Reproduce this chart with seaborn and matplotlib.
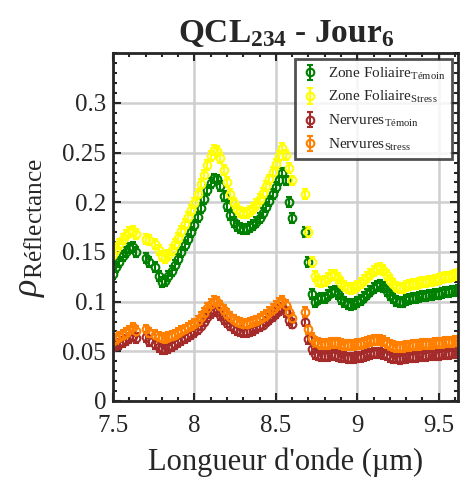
import numpy as np
import pandas as pd
import matplotlib
matplotlib.use("Agg")
import matplotlib.pyplot as plt
import seaborn as sns
from matplotlib.ticker import MultipleLocator

# wavelength grid (um), step 0.02
wavelength = np.round(np.arange(7.50, 9.621, 0.02), 2)

nan = np.nan
foliaire_temoin = [
    0.128, 0.135, 0.140, 0.146, 0.150, 0.154, 0.155, 0.150, nan, nan,
    0.144, 0.140, nan, 0.135, 0.126, 0.120, 0.121, 0.126, 0.131, 0.137,
    0.143, 0.150, 0.157, 0.163, 0.170, 0.177, 0.185, 0.194, 0.203, 0.212,
    0.219, 0.224, 0.223, 0.216, 0.206, 0.196, 0.187, 0.180, 0.176, 0.174,
    0.173, 0.173, 0.175, 0.177, 0.180, 0.184, 0.189, 0.195, 0.201, 0.208,
    0.215, 0.222, 0.230, 0.222, 0.200, 0.184, nan, nan, nan, 0.170,
    0.140, 0.108, 0.100, 0.103, 0.104, 0.104, 0.107, 0.110, 0.111, 0.108,
    0.103, 0.100, 0.098, 0.097, 0.098, 0.100, 0.102, 0.105, 0.108, 0.111,
    0.114, 0.116, 0.117, 0.115, 0.111, 0.107, 0.104, 0.101, 0.100, 0.100,
    0.102, 0.103, 0.104, 0.104, 0.105, 0.106, 0.106, 0.107, 0.107, 0.108,
    0.108, 0.109, 0.110, 0.110, 0.111, 0.111, 0.112,
]
foliaire_stress = [
    0.148, 0.153, 0.158, 0.163, 0.167, 0.170, 0.171, 0.168, nan, nan,
    0.163, 0.162, nan, 0.158, 0.152, 0.146, 0.144, 0.147, 0.152, 0.158,
    0.164, 0.171, 0.178, 0.185, 0.192, 0.199, 0.208, 0.218, 0.228, 0.238,
    0.247, 0.253, 0.252, 0.245, 0.233, 0.220, 0.208, 0.199, 0.193, 0.190,
    0.189, 0.189, 0.191, 0.194, 0.198, 0.203, 0.209, 0.216, 0.223, 0.231,
    0.239, 0.247, 0.255, 0.248, 0.235, 0.222, nan, nan, nan, 0.208,
    0.170, 0.140, 0.126, 0.121, 0.120, 0.121, 0.124, 0.127, 0.127, 0.124,
    0.119, 0.116, 0.114, 0.113, 0.114, 0.116, 0.119, 0.122, 0.125, 0.128,
    0.131, 0.133, 0.134, 0.132, 0.127, 0.122, 0.118, 0.115, 0.114, 0.114,
    0.116, 0.117, 0.118, 0.118, 0.119, 0.120, 0.120, 0.121, 0.121, 0.122,
    0.123, 0.124, 0.125, 0.125, 0.126, 0.127, 0.128,
]
nervures_temoin = [
    0.055, 0.056, 0.057, 0.059, 0.061, 0.063, 0.065, 0.063, nan, nan,
    0.064, 0.060, nan, 0.057, 0.054, 0.052, 0.052, 0.053, 0.055, 0.057,
    0.059, 0.061, 0.063, 0.065, 0.067, 0.069, 0.072, 0.076, 0.080, 0.085,
    0.089, 0.092, 0.091, 0.087, 0.083, 0.079, 0.076, 0.073, 0.071, 0.070,
    0.069, 0.069, 0.070, 0.071, 0.073, 0.075, 0.077, 0.080, 0.083, 0.086,
    0.089, 0.092, 0.094, 0.090, 0.082, 0.078, nan, nan, nan, 0.080,
    0.062, 0.052, 0.047, 0.046, 0.045, 0.045, 0.045, 0.046, 0.046, 0.045,
    0.044, 0.044, 0.043, 0.043, 0.043, 0.044, 0.044, 0.045, 0.046, 0.047,
    0.048, 0.048, 0.048, 0.047, 0.046, 0.044, 0.043, 0.043, 0.042, 0.043,
    0.043, 0.044, 0.044, 0.044, 0.045, 0.045, 0.045, 0.046, 0.046, 0.046,
    0.046, 0.047, 0.047, 0.047, 0.048, 0.048, 0.048,
]
nervures_stress = [
    0.060, 0.062, 0.064, 0.066, 0.068, 0.071, 0.074, 0.070, nan, nan,
    0.072, 0.068, nan, 0.066, 0.064, 0.063, 0.063, 0.064, 0.065, 0.066,
    0.068, 0.070, 0.072, 0.074, 0.076, 0.078, 0.081, 0.085, 0.089, 0.094,
    0.098, 0.101, 0.100, 0.096, 0.092, 0.088, 0.085, 0.082, 0.080, 0.079,
    0.078, 0.078, 0.079, 0.080, 0.081, 0.083, 0.085, 0.087, 0.090, 0.093,
    0.096, 0.099, 0.101, 0.097, 0.090, 0.084, nan, nan, nan, 0.090,
    0.072, 0.063, 0.059, 0.058, 0.057, 0.057, 0.057, 0.058, 0.058, 0.058,
    0.057, 0.056, 0.056, 0.056, 0.056, 0.057, 0.057, 0.058, 0.059, 0.060,
    0.061, 0.061, 0.061, 0.060, 0.058, 0.056, 0.055, 0.054, 0.054, 0.054,
    0.055, 0.055, 0.056, 0.056, 0.056, 0.057, 0.057, 0.057, 0.057, 0.058,
    0.058, 0.058, 0.059, 0.059, 0.059, 0.060, 0.060,
]

labels = [
    r"Zone Foliaire$_{\mathrm{Témoin}}$",
    r"Zone Foliaire$_{\mathrm{Stress}}$",
    r"Nervures$_{\mathrm{Témoin}}$",
    r"Nervures$_{\mathrm{Stress}}$",
]
colors = ["#008000", "#ffff00", "#a52a2a", "#ff8000"]
errors = [0.005, 0.005, 0.005, 0.005]

series = [foliaire_temoin, foliaire_stress, nervures_temoin, nervures_stress]
df = pd.concat(
    [pd.DataFrame({"x": wavelength, "y": s, "serie": lab}) for s, lab in zip(series, labels)],
    ignore_index=True,
)

sns.set_style("ticks")
plt.rcParams["font.family"] = ["Liberation Serif", "DejaVu Serif"]
plt.rcParams["mathtext.fontset"] = "custom"
plt.rcParams["mathtext.rm"] = "Liberation Serif"
plt.rcParams["mathtext.it"] = "Liberation Serif:italic"
plt.rcParams["mathtext.bf"] = "Liberation Serif:bold"

fig = plt.figure(figsize=(4.64, 4.86), dpi=100)
ax = fig.add_axes([0.2435, 0.1749, 0.7442, 0.7154])

palette = dict(zip(labels, colors))
for lab, err in zip(labels, errors):
    d = df[df["serie"] == lab]
    ax.errorbar(d["x"], d["y"], yerr=err, fmt="o", color=palette[lab],
                mfc="none", ms=5.5, mew=1.5, elinewidth=1.5, capsize=2,
                label=lab)

ax.set_xlim(7.5, 9.62)
ax.set_ylim(0, 0.35)
ax.xaxis.set_minor_locator(MultipleLocator(0.1))
ax.yaxis.set_minor_locator(MultipleLocator(0.01))
ax.set_xticks([7.5, 8, 8.5, 9, 9.5])
ax.set_xticklabels(["7.5", "8", "8.5", "9", "9.5"])
ax.set_yticks([0, 0.05, 0.1, 0.15, 0.2, 0.25, 0.3])
ax.set_yticklabels(["0", "0.05", "0.1", "0.15", "0.2", "0.25", "0.3"])
ax.tick_params(which="both", direction="in", top=True, right=True,
               labelsize=18, width=1.5, color="#262626", labelcolor="#262626")
ax.tick_params(which="major", length=6)
ax.tick_params(which="minor", length=3)
ax.tick_params(axis="x", which="major", pad=10)
ax.tick_params(axis="y", which="major", pad=5)
ax.grid(True, which="major", color="#cfcfcf", linewidth=1.8)
for sp in ax.spines.values():
    sp.set_linewidth(2)
    sp.set_color("#262626")

ax.set_xlabel("Longueur d'onde (µm)", fontsize=22, color="#262626", labelpad=8)
ax.set_ylabel(r"$\rho_{\mathrm{Réflectance}}$", fontsize=26, color="#262626", labelpad=11)
ax.set_title(r"QCL$_{\mathbf{234}}$ - Jour$_{\mathbf{6}}$", fontsize=24,
             fontweight="bold", pad=8)

leg = ax.legend(loc="upper right", fontsize=11, frameon=True, fancybox=False,
                borderaxespad=0.4, handletextpad=0.6, handlelength=1.2,
                labelspacing=0.5, borderpad=0.4)
leg.get_frame().set_edgecolor("#262626")
leg.get_frame().set_linewidth(2)

fig.savefig("out.png", dpi=100)
